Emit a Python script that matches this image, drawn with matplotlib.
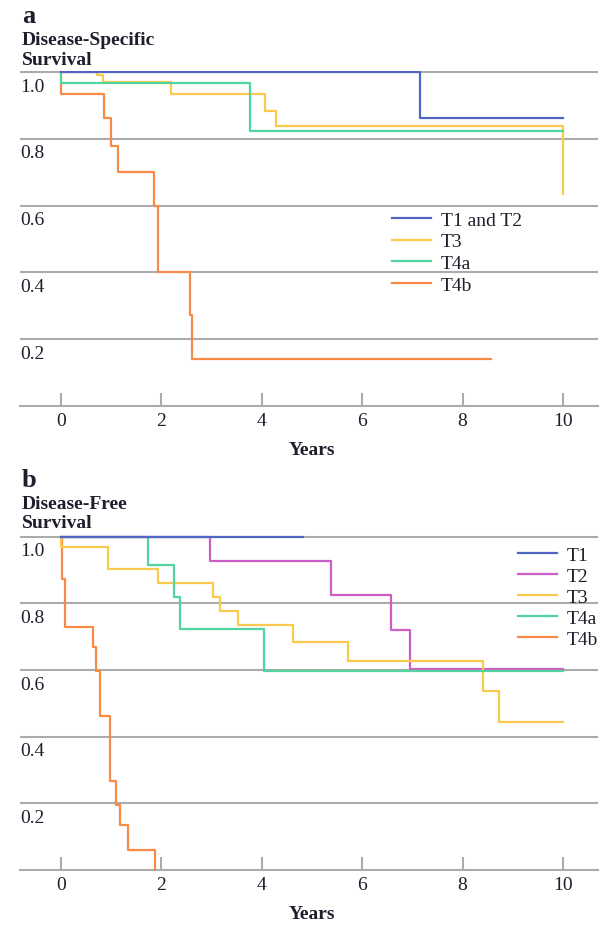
import matplotlib.pyplot as plt

# Panel a: disease-specific survival (years, survival fraction)
a_t12_years = [0, 7.15, 10]
a_t12_surv = [1.0, 0.862, 0.862]
a_t3_years = [0, 0.72, 0.84, 2.19, 4.06, 4.28, 10, 10]
a_t3_surv = [1.0, 0.99, 0.97, 0.934, 0.884, 0.838, 0.838, 0.635]
a_t4a_years = [0, 0, 3.76, 10]
a_t4a_surv = [1.0, 0.967, 0.824, 0.824]
a_t4b_years = [0, 0, 0.86, 1.0, 1.14, 1.85, 1.93, 2.57, 2.61, 8.57]
a_t4b_surv = [1.0, 0.934, 0.862, 0.78, 0.70, 0.60, 0.40, 0.272, 0.141, 0.141]

# Panel b: disease-free survival
b_t1_years = [0, 4.82]
b_t1_surv = [1.0, 1.0]
b_t2_years = [0, 2.97, 5.37, 6.57, 6.95, 10]
b_t2_surv = [1.0, 0.928, 0.826, 0.72, 0.602, 0.602]
b_t3_years = [0, 0, 0.94, 1.93, 3.03, 3.17, 3.53, 4.63, 5.72, 8.4, 8.73, 10]
b_t3_surv = [1.0, 0.97, 0.904, 0.862, 0.82, 0.778, 0.736, 0.685, 0.628, 0.536, 0.445, 0.445]
b_t4a_years = [0, 1.74, 2.25, 2.37, 4.05, 10]
b_t4a_surv = [1.0, 0.916, 0.82, 0.723, 0.596, 0.596]
b_t4b_years = [0, 0.01, 0.08, 0.64, 0.69, 0.78, 0.98, 1.1, 1.18, 1.34, 1.87]
b_t4b_surv = [1.0, 0.874, 0.73, 0.67, 0.597, 0.462, 0.267, 0.195, 0.135, 0.06, 0.0]

x_ticks = [0, 2, 4, 6, 8, 10]
y_ticks = [1.0, 0.8, 0.6, 0.4, 0.2]
y_tick_labels = ["1.0", "0.8", "0.6", "0.4", "0.2"]

# Colours
BLUE = "#4f67c2"
MAGENTA = "#cc5ec8"
YELLOW = "#fcc94f"
GREEN = "#52d3a0"
ORANGE = "#f98a45"
GREY = "#ababab"
TEXT = "#1e1e2c"

plt.rcParams["font.family"] = ["Liberation Serif", "DejaVu Serif"]
plt.rcParams["font.size"] = 14

fig = plt.figure(figsize=(6.01, 9.28), dpi=100)

ax_a = fig.add_axes([0.0333, 0.5614, 0.9617, 0.3613])
ax_b = fig.add_axes([0.0333, 0.0614, 0.9617, 0.3605])


def style_axes(ax):
    ax.set_xlim(-0.817, 10.697)
    ax.set_ylim(0, 1.004)
    for side in ["top", "right", "left"]:
        ax.spines[side].set_visible(False)
    ax.spines["bottom"].set_color(GREY)
    ax.spines["bottom"].set_linewidth(1.5)
    ax.set_yticks([])
    ax.set_xticks(x_ticks)
    ax.tick_params(axis="x", direction="in", length=9.4, width=1.5,
                   color=GREY, pad=4.5, labelsize=14, labelcolor=TEXT)
    for v in y_ticks:
        ax.axhline(v, color=GREY, linewidth=1.5, zorder=0)
    for v, lab in zip(y_ticks, y_tick_labels):
        ax.annotate(lab, xy=(0, v), xycoords=("axes fraction", "data"),
                    xytext=(0, -4), textcoords="offset points",
                    ha="left", va="top", fontsize=14, color=TEXT)


style_axes(ax_a)
style_axes(ax_b)

lw = 1.6

# Panel a
ax_a.step(a_t12_years, a_t12_surv, where="post", color=BLUE, lw=lw, zorder=6, label="T1 and T2")
ax_a.step(a_t3_years, a_t3_surv, where="post", color=YELLOW, lw=lw, zorder=4, label="T3")
ax_a.step(a_t4a_years, a_t4a_surv, where="post", color=GREEN, lw=lw, zorder=5, label="T4a")
ax_a.step(a_t4b_years, a_t4b_surv, where="post", color=ORANGE, lw=lw, zorder=3, label="T4b")

ax_a.legend(loc="upper left", bbox_to_anchor=(392 / 601, 1 - 212 / 928),
            bbox_transform=fig.transFigure, frameon=False, fontsize=14,
            handlelength=2.0, handletextpad=0.5, labelspacing=0.21,
            borderpad=0, borderaxespad=0, labelcolor=TEXT)

# Panel b
ax_b.step(b_t1_years, b_t1_surv, where="post", color=BLUE, lw=lw, zorder=7, label="T1")
ax_b.step(b_t2_years, b_t2_surv, where="post", color=MAGENTA, lw=lw, zorder=4, label="T2")
ax_b.step(b_t3_years, b_t3_surv, where="post", color=YELLOW, lw=lw, zorder=5, label="T3")
ax_b.step(b_t4a_years, b_t4a_surv, where="post", color=GREEN, lw=lw, zorder=6, label="T4a")
ax_b.step(b_t4b_years, b_t4b_surv, where="post", color=ORANGE, lw=lw, zorder=3, label="T4b")

ax_b.legend(loc="upper left", bbox_to_anchor=(518 / 601, 1 - 547 / 928),
            bbox_transform=fig.transFigure, frameon=False, fontsize=14,
            handlelength=2.0, handletextpad=0.5, labelspacing=0.18,
            borderpad=0, borderaxespad=0, labelcolor=TEXT)

# Panel letters and titles
fig.text(22 / 601, 1 - 23 / 928, "a", fontsize=19, fontweight="bold", color=TEXT, va="baseline")
fig.text(22 / 601, 1 - 45 / 928, "Disease-Specific", fontsize=14, fontweight="bold", color=TEXT, va="baseline")
fig.text(22 / 601, 1 - 65 / 928, "Survival", fontsize=14, fontweight="bold", color=TEXT, va="baseline")

fig.text(22 / 601, 1 - 487 / 928, "b", fontsize=19, fontweight="bold", color=TEXT, va="baseline")
fig.text(22 / 601, 1 - 509 / 928, "Disease-Free", fontsize=14, fontweight="bold", color=TEXT, va="baseline")
fig.text(22 / 601, 1 - 528 / 928, "Survival", fontsize=14, fontweight="bold", color=TEXT, va="baseline")

# Axis titles
fig.text(312 / 601, 1 - 455 / 928, "Years", fontsize=14, fontweight="bold", color=TEXT, ha="center", va="baseline")
fig.text(312 / 601, 1 - 919 / 928, "Years", fontsize=14, fontweight="bold", color=TEXT, ha="center", va="baseline")

fig.savefig("out.png", dpi=100)
